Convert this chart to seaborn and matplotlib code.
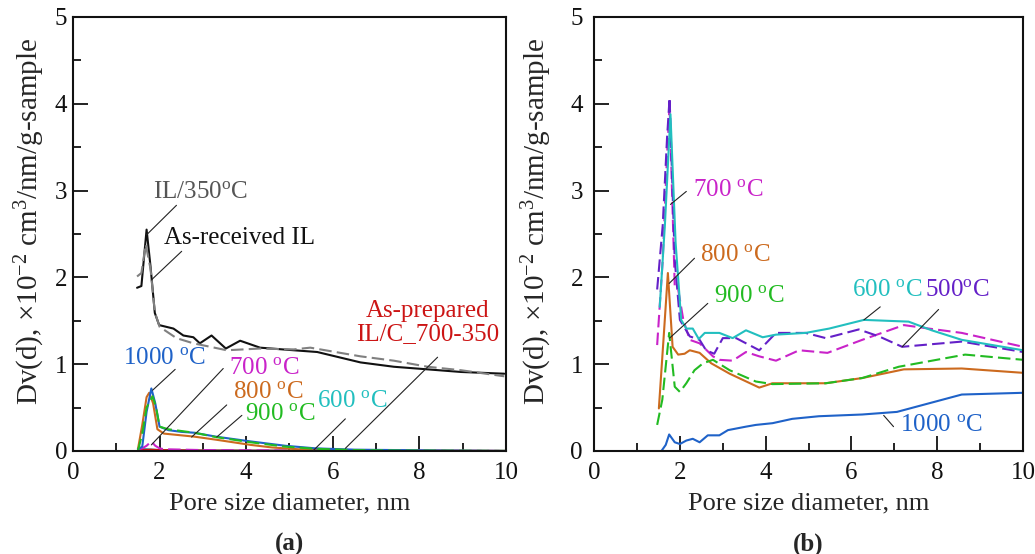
import numpy as np
import pandas as pd
import matplotlib
matplotlib.use("Agg")
import matplotlib.pyplot as plt
import seaborn as sns

# ---------------- data: panel (a) ----------------
a_received_x = [1.48, 1.58, 1.70, 1.79, 1.89, 1.99, 2.32, 2.55, 2.78, 2.93, 3.20, 3.53, 3.86,
                4.32, 5.10, 5.64, 6.64, 7.41, 8.19, 8.96, 9.96]
a_received_y = [1.88, 1.90, 2.55, 2.13, 1.59, 1.45, 1.41, 1.33, 1.31, 1.24, 1.33, 1.18, 1.27,
                1.19, 1.16, 1.14, 1.02, 0.97, 0.94, 0.91, 0.89]

a_il350_x = [1.48, 1.58, 1.68, 1.79, 1.89, 2.00, 2.39, 2.78, 3.17, 3.55, 4.32, 5.10, 5.48,
             6.64, 7.41, 8.19, 8.96, 9.96]
a_il350_y = [2.01, 2.05, 2.38, 2.10, 1.60, 1.43, 1.30, 1.24, 1.20, 1.16, 1.18, 1.17, 1.19,
             1.09, 1.04, 0.97, 0.93, 0.86]

a_1000_x = [1.5, 1.6, 1.7, 1.81, 1.9, 2.0, 2.2, 2.5, 2.8, 3.3, 4.1, 4.9, 5.6, 6.5, 7.5, 8.5, 10.0]
a_1000_y = [0.02, 0.05, 0.45, 0.72, 0.55, 0.28, 0.24, 0.22, 0.21, 0.165, 0.11, 0.06, 0.03,
            0.015, 0.01, 0.005, 0.0]

a_800_x = [1.5, 1.6, 1.7, 1.76, 1.85, 1.95, 2.1, 2.5, 2.8, 3.3, 4.1, 4.6, 5.2, 6.0, 7.0, 8.5, 10.0]
a_800_y = [0.02, 0.30, 0.62, 0.67, 0.55, 0.25, 0.20, 0.18, 0.165, 0.13, 0.07, 0.04, 0.02,
           0.01, 0.005, 0.003, 0.0]

a_900_x = [1.5, 1.6, 1.7, 1.84, 1.92, 2.0, 2.2, 2.5, 2.8, 3.3, 4.1, 4.9, 5.6, 6.5, 7.5, 10.0]
a_900_y = [0.0, 0.20, 0.50, 0.63, 0.50, 0.28, 0.25, 0.23, 0.21, 0.16, 0.10, 0.05, 0.025,
           0.01, 0.005, 0.0]

a_700_x = [1.5, 1.6, 1.7, 1.81, 1.9, 2.0, 2.1, 3.0, 5.0, 10.0]
a_700_y = [0.02, 0.03, 0.06, 0.11, 0.06, 0.03, 0.02, 0.01, 0.005, 0.0]

a_600_x = [1.5, 1.7, 2.0, 3.0, 5.0, 10.0]
a_600_y = [0.03, 0.02, 0.01, 0.005, 0.003, 0.0]

a_prep_x = [1.5, 1.8, 2.0, 3.0, 5.0, 10.0]
a_prep_y = [0.01, 0.015, 0.01, 0.005, 0.002, 0.0]

# ---------------- data: panel (b) ----------------
b_700_x = [1.47, 1.60, 1.70, 1.76, 1.88, 1.96, 2.08, 2.23, 2.46, 2.77, 2.92, 3.23, 3.54,
           3.85, 4.24, 4.78, 5.44, 6.25, 7.22, 7.80, 8.57, 10.0]
b_700_y = [1.22, 2.20, 3.40, 3.98, 1.90, 1.86, 1.51, 1.28, 1.24, 1.09, 1.05, 1.04, 1.14,
           1.09, 1.04, 1.16, 1.13, 1.28, 1.45, 1.41, 1.36, 1.20]

b_500_x = [1.47, 1.60, 1.70, 1.76, 1.88, 2.00, 2.23, 2.46, 2.61, 2.80, 3.00, 3.31, 3.85,
           4.24, 4.93, 5.40, 6.17, 6.64, 7.18, 8.57, 10.0]
b_500_y = [1.86, 2.60, 3.60, 4.07, 2.20, 1.51, 1.32, 1.28, 1.16, 1.12, 1.30, 1.30, 1.16,
           1.36, 1.36, 1.30, 1.40, 1.32, 1.20, 1.26, 1.14]

b_600_x = [1.53, 1.65, 1.78, 1.90, 2.03, 2.15, 2.30, 2.44, 2.58, 2.92, 3.23, 3.54, 3.93,
           4.24, 4.93, 5.48, 6.29, 7.33, 7.87, 8.57, 10.0]
b_600_y = [1.66, 2.60, 3.88, 2.40, 1.51, 1.41, 1.41, 1.29, 1.36, 1.36, 1.30, 1.39, 1.31,
           1.34, 1.36, 1.41, 1.51, 1.49, 1.39, 1.28, 1.16]

b_800_x = [1.51, 1.62, 1.72, 1.83, 1.96, 2.11, 2.23, 2.46, 2.73, 3.16, 3.85, 4.16, 5.40,
           6.25, 7.22, 8.57, 10.0]
b_800_y = [0.49, 1.30, 2.05, 1.20, 1.11, 1.12, 1.16, 1.13, 1.01, 0.89, 0.73, 0.78, 0.78,
           0.84, 0.94, 0.95, 0.90]

b_900_x = [1.47, 1.59, 1.75, 1.88, 2.00, 2.15, 2.34, 2.54, 2.77, 3.16, 3.77, 4.16, 5.40,
           6.25, 7.10, 8.65, 10.0]
b_900_y = [0.30, 0.59, 1.36, 0.74, 0.68, 0.78, 0.93, 1.01, 1.05, 0.93, 0.80, 0.77, 0.78,
           0.84, 0.97, 1.11, 1.05]

b_1000_x = [1.57, 1.67, 1.75, 1.88, 2.00, 2.15, 2.30, 2.46, 2.65, 2.92, 3.12, 3.54, 3.77,
            4.16, 4.62, 5.24, 6.25, 7.06, 8.57, 10.0]
b_1000_y = [0.00, 0.07, 0.19, 0.10, 0.08, 0.12, 0.14, 0.10, 0.18, 0.18, 0.24, 0.28, 0.30,
            0.32, 0.37, 0.40, 0.42, 0.45, 0.65, 0.67]

# ---------------- colours ----------------
C_BLACK = "#111111"
C_GREY = "#808080"
C_BLUE = "#1f62c8"
C_ORANGE = "#cc6a1e"
C_GREEN = "#22bb22"
C_MAGENTA = "#c923c9"
C_CYAN = "#22bfbf"
C_PURPLE = "#6420c8"
C_RED = "#cc1515"

DASH = (0, (6, 2.5))

sns.set_style("ticks")
plt.rcParams["font.family"] = ["Liberation Serif", "DejaVu Serif"]
plt.rcParams["mathtext.fontset"] = "custom"
plt.rcParams["mathtext.rm"] = "Liberation Serif"
plt.rcParams["mathtext.it"] = "Liberation Serif:italic"
plt.rcParams["axes.linewidth"] = 1.5

fig = plt.figure(figsize=(10.35, 5.54), dpi=100)
ax_a = fig.add_axes([0.0705, 0.186, 0.4184, 0.7834])
ax_b = fig.add_axes([0.574, 0.186, 0.4145, 0.7834])

DEG = r"$\mathregular{^{o}}$C"
YLABEL = r"Dv(d), ×10$\mathregular{^{-2}}$ cm$\mathregular{^{3}}$/nm/g-sample"
ANN_SIZE = 18


def draw(ax, x, y, color, dashed=False, lw=1.5):
    df = pd.DataFrame({"d": x, "v": y})
    sns.lineplot(data=df, x="d", y="v", ax=ax, color=color, lw=lw,
                 linestyle=DASH if dashed else "-", errorbar=None)


def pointer(ax, p0, p1):
    ax.annotate("", xy=p0, xytext=p1,
                arrowprops=dict(arrowstyle="-", lw=0.8, color="#222222",
                                shrinkA=0, shrinkB=0))


def label(ax, x, y, s, color, ha="left"):
    ax.text(x, y, s, color=color, fontsize=ANN_SIZE, ha=ha, va="center",
            linespacing=1.1)


# ---- panel (a) ----
draw(ax_a, a_600_x, a_600_y, C_CYAN)
draw(ax_a, a_prep_x, a_prep_y, C_RED)
draw(ax_a, a_700_x, a_700_y, C_MAGENTA, dashed=True)
draw(ax_a, a_800_x, a_800_y, C_ORANGE)
draw(ax_a, a_1000_x, a_1000_y, C_BLUE)
draw(ax_a, a_900_x, a_900_y, C_GREEN, dashed=True)
draw(ax_a, a_received_x, a_received_y, C_BLACK)
draw(ax_a, a_il350_x, a_il350_y, C_GREY, dashed=True)

label(ax_a, 1.84, 2.98, "IL/350" + DEG, "#555555")
pointer(ax_a, (1.70, 2.49), (2.39, 2.83))
label(ax_a, 2.11, 2.45, "As-received IL", C_BLACK)
pointer(ax_a, (1.81, 1.97), (2.51, 2.30))
label(ax_a, 8.19, 1.48, "As-prepared\nIL/C_700-350", C_RED, ha="center")
pointer(ax_a, (6.29, 0.03), (8.42, 1.08))
label(ax_a, 1.16, 1.07, "1000 " + DEG, C_BLUE)
pointer(ax_a, (1.84, 0.70), (2.36, 0.94))
label(ax_a, 3.61, 0.96, "700 " + DEG, C_MAGENTA)
pointer(ax_a, (1.81, 0.07), (3.47, 0.95))
label(ax_a, 3.69, 0.68, "800 " + DEG, C_ORANGE)
pointer(ax_a, (2.74, 0.16), (3.55, 0.53))
label(ax_a, 3.98, 0.43, "900 " + DEG, C_GREEN)
pointer(ax_a, (3.32, 0.16), (3.90, 0.41))
label(ax_a, 5.64, 0.57, "600 " + DEG, C_CYAN)
pointer(ax_a, (5.56, 0.01), (6.29, 0.37))

# ---- panel (b) ----
draw(ax_b, b_1000_x, b_1000_y, C_BLUE)
draw(ax_b, b_800_x, b_800_y, C_ORANGE)
draw(ax_b, b_900_x, b_900_y, C_GREEN, dashed=True)
draw(ax_b, b_700_x, b_700_y, C_MAGENTA, dashed=True)
draw(ax_b, b_500_x, b_500_y, C_PURPLE, dashed=True)
draw(ax_b, b_600_x, b_600_y, C_CYAN)

label(ax_b, 2.30, 3.01, "700 " + DEG, C_MAGENTA)
pointer(ax_b, (1.78, 2.84), (2.15, 2.99))
label(ax_b, 2.47, 2.26, "800 " + DEG, C_ORANGE)
pointer(ax_b, (1.75, 1.93), (2.34, 2.22))
label(ax_b, 2.79, 1.78, "900 " + DEG, C_GREEN)
pointer(ax_b, (1.76, 1.30), (2.65, 1.70))
label(ax_b, 6.02, 1.86, "600 " + DEG, C_CYAN)
pointer(ax_b, (6.29, 1.51), (6.67, 1.66))
label(ax_b, 7.72, 1.86, "500" + DEG, C_PURPLE)
pointer(ax_b, (7.18, 1.20), (8.03, 1.63))
label(ax_b, 7.14, 0.30, "1000 " + DEG, C_BLUE)
pointer(ax_b, (6.75, 0.41), (6.98, 0.28))

# ---- shared axis styling ----
panel_style = (
    (ax_a, "(a)", 4, -0.060),
    (ax_b, "(b)", 8, -0.094),
)
for ax, tag, ypad, ylab_x in panel_style:
    ax.set_xlim(0, 10)
    ax.set_ylim(0, 5)
    ax.set_xticks(np.arange(0, 11, 2))
    ax.set_xticks(np.arange(1, 10, 2), minor=True)
    ax.set_yticks(np.arange(0, 6, 1))
    ax.set_yticks(np.arange(0.5, 5, 1), minor=True)
    ax.tick_params(which="both", direction="in", top=False, right=False,
                   labelsize=18, width=1.3, colors="#111111")
    ax.tick_params(axis="x", which="both", pad=8)
    ax.tick_params(axis="y", which="both", pad=ypad)
    ax.tick_params(which="major", length=11)
    ax.tick_params(which="minor", length=6)
    for sp in ax.spines.values():
        sp.set_visible(True)
        sp.set_linewidth(1.5)
        sp.set_color("#111111")
    ax.set_xlabel("Pore size diameter, nm", fontsize=19, labelpad=6)
    ax.set_ylabel(YLABEL, fontsize=21)
    ax.yaxis.set_label_coords(ylab_x, 0.53)
    pos = ax.get_position()
    fig.text(pos.x0 + pos.width / 2, 0.018, tag, fontsize=18, fontweight="bold",
             ha="center", va="center")

fig.savefig("out.png", dpi=100)
